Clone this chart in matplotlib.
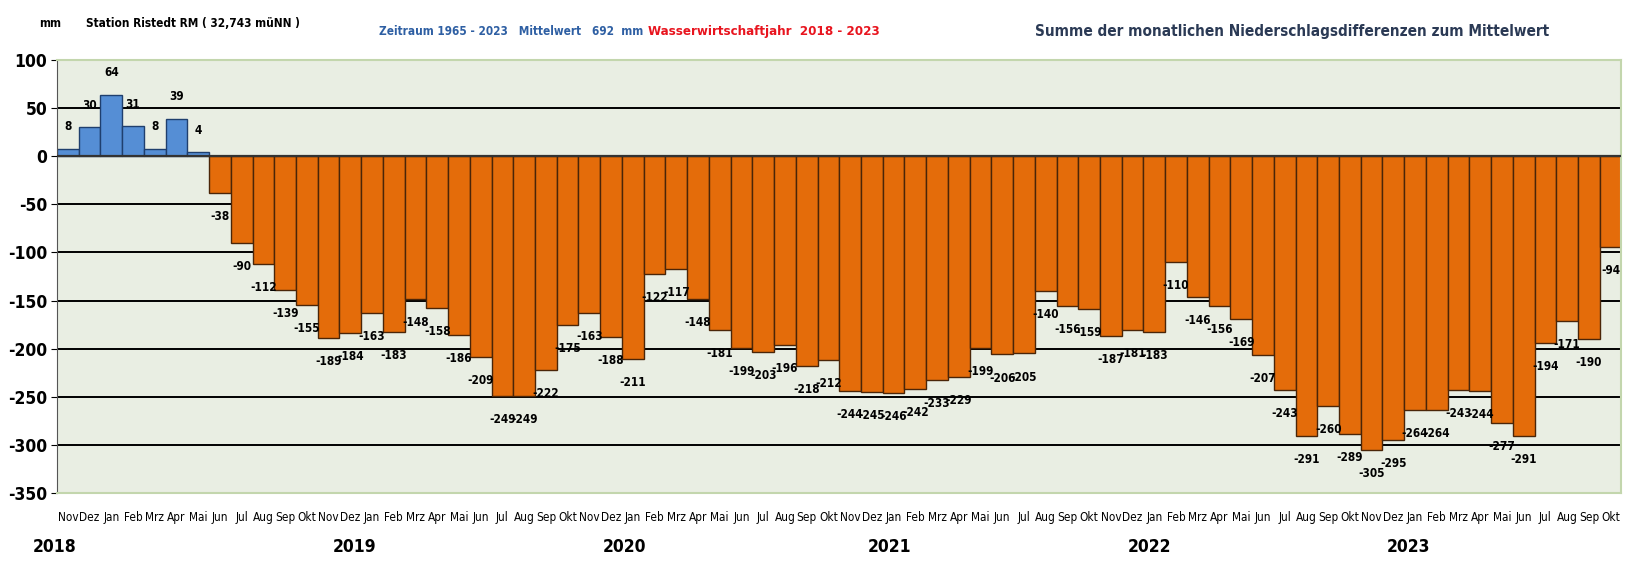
import numpy as np
import matplotlib.pyplot as plt

# kumulierte Monatsdifferenzen zum Mittelwert (mm), Nov 2017 .. Okt 2023
werte = [8, 30, 64, 31, 8, 39, 4, -38, -90, -112, -139, -155,
         -189, -184, -163, -183, -148, -158, -186, -209, -249, -249, -222, -175,
         -163, -188, -211, -122, -117, -148, -181, -199, -203, -196, -218, -212,
         -244, -245, -246, -242, -233, -229, -199, -206, -205, -140, -156, -159,
         -187, -181, -183, -110, -146, -156, -169, -207, -243, -291, -260, -289,
         -305, -295, -264, -264, -243, -244, -277, -291, -194, -171, -190, -94]
monate = ["Nov", "Dez", "Jan", "Feb", "Mrz", "Apr", "Mai", "Jun", "Jul", "Aug", "Sep", "Okt"]
jahre = ["2018", "2019", "2020", "2021", "2022", "2023"]
jahr_pos = [-0.6, 13.2, 25.6, 37.8, 49.8, 61.7]

plt.rcParams['font.family'] = ['DejaVu Sans']
plt.rcParams['font.stretch'] = 'condensed'

fig = plt.figure(figsize=(16.28, 5.62), dpi=100)
ax = fig.add_axes([0.035, 0.123, 0.961, 0.770])
ax.set_facecolor('#e9eee3')

x = np.arange(len(werte))
farben = ['#558ed5' if v > 0 else '#e46c0a' for v in werte]
kanten = ['#1f3f6e' if v > 0 else '#4a2508' for v in werte]

for yy in range(-300, 100, 50):
    ax.axhline(yy, color='black', lw=1.4, zorder=1)

ax.bar(x, werte, width=1.0, color=farben, edgecolor=kanten, linewidth=1.0, zorder=2)
ax.axhline(0, color='#333333', lw=1.6, zorder=3)

for xi, v in zip(x, werte):
    off = 16 if v > 0 else -17
    ax.annotate(str(v), (xi, v), xytext=(0, off), textcoords='offset points',
                ha='center', va='center', fontsize=8.5, fontweight='bold', zorder=4)

ax.set_xlim(-0.5, len(werte) - 0.5)
ax.set_ylim(-350, 100)
ax.set_yticks(range(-350, 101, 50))
ax.set_yticklabels([str(t) for t in range(-350, 101, 50)], fontsize=12.5, fontweight='bold')
ax.set_xticks(x)
ax.set_xticklabels([monate[i % 12] for i in x], fontsize=8.5)
ax.tick_params(axis='x', length=0, pad=13)
ax.tick_params(axis='y', length=4, pad=3)

for s in ['top', 'right', 'bottom']:
    ax.spines[s].set_color('#c3d6ad')
    ax.spines[s].set_linewidth(1.5)
ax.spines['left'].set_color('#555555')

for j, p in zip(jahre, jahr_pos):
    ax.text(p, -0.125, j, transform=ax.get_xaxis_transform(), ha='center', va='center',
            fontsize=12.5, fontweight='bold')

fig.text(0.024, 0.958, "mm", fontsize=8.5, fontweight='bold', va='center')
fig.text(0.053, 0.958, "Station Ristedt RM ( 32,743 müNN )", fontsize=8.5,
         fontweight='bold', va='center')
fig.text(0.233, 0.944, "Zeitraum 1965 - 2023   Mittelwert   692  mm", fontsize=8.5,
         fontweight='bold', color='#2e5fa3', va='center')
fig.text(0.398, 0.944, "Wasserwirtschaftjahr  2018 - 2023", fontsize=9.5,
         fontweight='bold', color='#e8141e', va='center')
fig.text(0.636, 0.944, "Summe der monatlichen Niederschlagsdifferenzen zum Mittelwert",
         fontsize=11, fontweight='bold', color='#2b3a55', va='center')

fig.savefig('out.png', dpi=100)
